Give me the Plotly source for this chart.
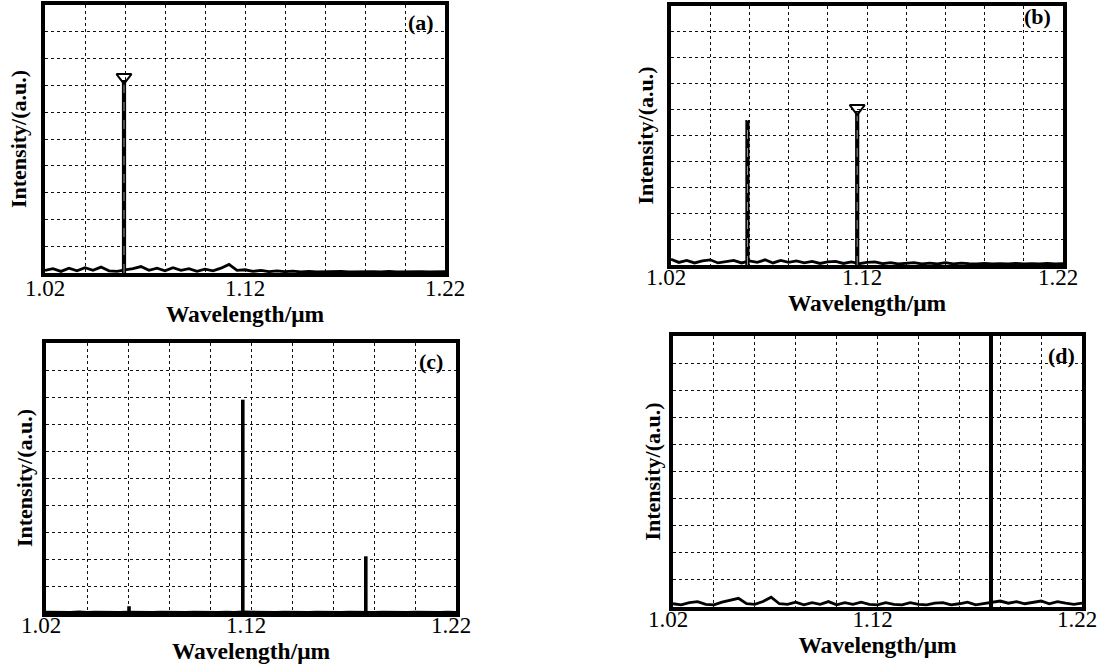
import plotly.graph_objects as go

# ---------------- data ----------------
WAVELENGTH = [
    1.020, 1.024, 1.028, 1.032, 1.036, 1.040, 1.044, 1.048, 1.052, 1.056,
    1.060, 1.064, 1.068, 1.072, 1.076, 1.080, 1.084, 1.088, 1.092, 1.096,
    1.100, 1.104, 1.108, 1.112, 1.116, 1.120, 1.124, 1.128, 1.132, 1.136,
    1.140, 1.144, 1.148, 1.152, 1.156, 1.160, 1.164, 1.168, 1.172, 1.176,
    1.180, 1.184, 1.188, 1.192, 1.196, 1.200, 1.204, 1.208, 1.212, 1.216,
    1.220,
]

NOISE_A = [
    0.10, 0.16, 0.06, 0.18, 0.08, 0.20, 0.10, 0.22, 0.08, 0.06,
    0.12, 0.16, 0.24, 0.10, 0.18, 0.08, 0.20, 0.10, 0.16, 0.06,
    0.14, 0.08, 0.18, 0.32, 0.10, 0.12, 0.06, 0.10, 0.05, 0.08,
    0.05, 0.07, 0.04, 0.06, 0.04, 0.05, 0.04, 0.06, 0.04, 0.05,
    0.04, 0.05, 0.04, 0.06, 0.04, 0.05, 0.04, 0.05, 0.04, 0.05,
    0.05,
]
NOISE_B = [
    0.22, 0.10, 0.18, 0.08, 0.16, 0.20, 0.08, 0.14, 0.18, 0.08,
    0.16, 0.10, 0.20, 0.08, 0.18, 0.10, 0.16, 0.08, 0.14, 0.06,
    0.12, 0.14, 0.06, 0.12, 0.05, 0.10, 0.12, 0.05, 0.09, 0.04,
    0.07, 0.09, 0.04, 0.07, 0.04, 0.09, 0.04, 0.07, 0.05, 0.04,
    0.06, 0.04, 0.05, 0.04, 0.06, 0.04, 0.05, 0.04, 0.06, 0.04,
    0.05,
]
NOISE_C = [
    0.03, 0.02, 0.03, 0.02, 0.04, 0.02, 0.03, 0.02, 0.03, 0.02,
    0.03, 0.02, 0.03, 0.02, 0.03, 0.02, 0.03, 0.02, 0.03, 0.02,
    0.03, 0.02, 0.03, 0.02, 0.04, 0.03, 0.02, 0.03, 0.02, 0.03,
    0.02, 0.03, 0.02, 0.03, 0.02, 0.03, 0.02, 0.03, 0.02, 0.03,
    0.02, 0.03, 0.02, 0.03, 0.02, 0.03, 0.02, 0.03, 0.02, 0.03,
    0.02,
]
NOISE_D = [
    0.12, 0.08, 0.16, 0.20, 0.10, 0.08, 0.18, 0.24, 0.32, 0.12,
    0.10, 0.20, 0.36, 0.12, 0.10, 0.18, 0.08, 0.16, 0.10, 0.20,
    0.08, 0.16, 0.10, 0.18, 0.10, 0.08, 0.16, 0.10, 0.08, 0.16,
    0.10, 0.08, 0.14, 0.16, 0.08, 0.12, 0.18, 0.08, 0.12, 0.16,
    0.22, 0.14, 0.20, 0.12, 0.18, 0.22, 0.12, 0.20, 0.14, 0.10,
    0.14,
]

PEAK_WL_A = [1.0595]
PEAK_H_A = [7.2]
PEAK_WL_B = [1.059, 1.115]
PEAK_H_B = [5.6, 5.95]
PEAK_WL_C = [1.0605, 1.116, 1.176]
PEAK_H_C = [0.25, 7.9, 2.1]
PEAK_WL_D = [1.1755]
PEAK_H_D = [10.5]

MARKER_WL_A = [1.0595]
MARKER_H_A = [7.3]
MARKER_WL_B = [1.115]
MARKER_H_B = [6.05]
MARKER_WL_C = []
MARKER_H_C = []
MARKER_WL_D = []
MARKER_H_D = []

PANEL_LABELS = ["(a)", "(b)", "(c)", "(d)"]
X_GRID = [1.02, 1.04, 1.06, 1.08, 1.10, 1.12, 1.14, 1.16, 1.18, 1.20, 1.22]
X_LABELED = ["1.02", "1.12", "1.22"]
Y_GRID = [0, 1, 2, 3, 4, 5, 6, 7, 8, 9, 10]
X_TITLE = "Wavelength/μm"
Y_TITLE = "Intensity/(a.u.)"

# ---------------- layout helpers ----------------
W, H = 1098, 667
# panel boxes in pixels: (left, right, top, bottom)
BOXES = [
    (45, 445, 5, 273),
    (671, 1063, 6, 265),
    (46, 456, 343, 613),
    (673, 1082, 336, 607),
]
# per panel: tick label standoff, tick label shift, y-title standoff,
# label inset from right, label centre offset from top
STYLE = [
    dict(tls=-8, shift=0, ystand=10, inset=9, top=17, hollow=True, sw=4.2),
    dict(tls=-11, shift=-5, ystand=9, inset=10, top=10, hollow=True, sw=4.2),
    dict(tls=-11, shift=-5, ystand=5, inset=11, top=19, hollow=False, sw=3.6),
    dict(tls=-11, shift=-5, ystand=4, inset=5, top=19, hollow=False, sw=4.0),
]

SERIF = "Liberation Serif, Times New Roman, serif"

panels = [
    (NOISE_A, PEAK_WL_A, PEAK_H_A, MARKER_WL_A, MARKER_H_A),
    (NOISE_B, PEAK_WL_B, PEAK_H_B, MARKER_WL_B, MARKER_H_B),
    (NOISE_C, PEAK_WL_C, PEAK_H_C, MARKER_WL_C, MARKER_H_C),
    (NOISE_D, PEAK_WL_D, PEAK_H_D, MARKER_WL_D, MARKER_H_D),
]

fig = go.Figure()
layout = {}
annotations = []
ticktext = [f"{v:.2f}" if f"{v:.2f}" in X_LABELED else "" for v in X_GRID]

for i, (noise, pwl, ph, mwl, mh) in enumerate(panels):
    n = i + 1
    st = STYLE[i]
    xa = "x" if n == 1 else f"x{n}"
    ya = "y" if n == 1 else f"y{n}"
    # baseline noise
    fig.add_trace(go.Scatter(
        x=WAVELENGTH, y=noise, mode="lines",
        line=dict(color="black", width=2.8),
        xaxis=xa, yaxis=ya, showlegend=False, hoverinfo="skip"))
    # peaks as stems
    sx, sy = [], []
    for w, h in zip(pwl, ph):
        sx += [w, w, None]
        sy += [0, h, None]
    fig.add_trace(go.Scatter(
        x=sx, y=sy, mode="lines",
        line=dict(color="black", width=st["sw"]),
        xaxis=xa, yaxis=ya, showlegend=False))
    if st["hollow"]:
        fig.add_trace(go.Scatter(
            x=sx, y=sy, mode="lines",
            line=dict(color="#9a9a9a", width=1.0, dash="dash"),
            xaxis=xa, yaxis=ya, showlegend=False, hoverinfo="skip"))
    if mwl:
        fig.add_trace(go.Scatter(
            x=mwl, y=mh, mode="markers",
            marker=dict(symbol="triangle-down-open", size=13,
                        color="black", line=dict(width=2, color="black")),
            xaxis=xa, yaxis=ya, showlegend=False, cliponaxis=False))

    l, r, t, b = BOXES[i]
    xdom = [l / W, r / W]
    ydom = [1 - b / H, 1 - t / H]
    xkey = "xaxis" if n == 1 else f"xaxis{n}"
    ykey = "yaxis" if n == 1 else f"yaxis{n}"
    layout[xkey] = dict(
        domain=xdom, anchor=ya, range=[1.02, 1.22], automargin=False,
        tickvals=X_GRID, ticktext=ticktext, ticks="", ticklen=0,
        ticklabelstandoff=st["tls"], ticklabelshift=st["shift"],
        showgrid=True, gridcolor="#111111", griddash="dot", gridwidth=1.2,
        showline=True, mirror=True, linewidth=3.5, linecolor="black",
        zeroline=False,
        tickfont=dict(family=SERIF, size=23, color="black"),
        title=dict(text=X_TITLE, standoff=2,
                   font=dict(family=SERIF, size=23.5, color="black", weight="bold")),
    )
    layout[ykey] = dict(
        domain=ydom, anchor=xa, range=[0, 10], automargin=False,
        tickvals=Y_GRID, showticklabels=False, ticks="", ticklen=0,
        showgrid=True, gridcolor="#111111", griddash="dot", gridwidth=1.2,
        showline=True, mirror=True, linewidth=3.5, linecolor="black",
        zeroline=False,
        title=dict(text=Y_TITLE, standoff=st["ystand"],
                   font=dict(family=SERIF, size=22, color="black", weight="bold")),
    )
    pw, phh = r - l, b - t
    annotations.append(dict(
        text=PANEL_LABELS[i], xref=f"{xa} domain", yref=f"{ya} domain",
        x=1 - st["inset"] / pw, y=1 - st["top"] / phh,
        xanchor="right", yanchor="middle", showarrow=False,
        font=dict(family=SERIF, size=22, color="black", weight="bold")))

fig.update_layout(
    width=W, height=H,
    margin=dict(l=0, r=0, t=0, b=0, autoexpand=False),
    paper_bgcolor="white", plot_bgcolor="white",
    hovermode=False,
    annotations=annotations,
    **layout,
)

fig.write_html(
    "out.html",
    config={"displayModeBar": False},
    post_script="document.body.style.margin='0';document.body.style.overflow='hidden';",
)
